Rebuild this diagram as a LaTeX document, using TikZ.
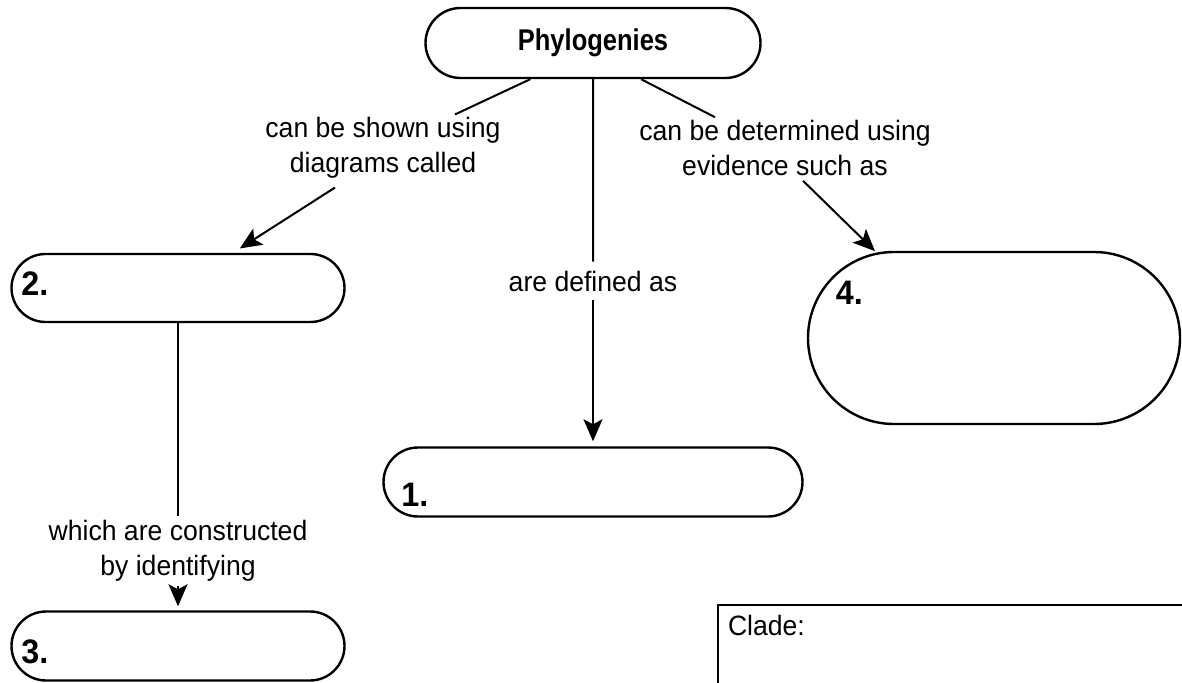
\documentclass[tikz,border=0pt]{standalone}
\usepackage{fontspec}
\setmainfont{Liberation Sans}[FakeStretch=0.95]
\newfontfamily\headfont{Liberation Sans}[FakeStretch=0.85]
\usetikzlibrary{arrows.meta,positioning,shapes.misc,calc}

\begin{document}
\begin{tikzpicture}
        [
            x = 0.5pt, y = -0.5pt,
            > = {Stealth[length=11pt,width=9.5pt,inset=2.5pt]},
            line width = 1pt,
            pill/.style = {
                draw, rounded rectangle, line width=1.2pt, inner sep=0pt},
            link/.style = {
                font=\fontsize{14}{17.5}\selectfont, align=center, inner sep=4pt},
            num/.style = {font=\fontsize{17}{20}\selectfont\bfseries, inner sep=0pt}
        ]
        \useasboundingbox (0,0) rectangle (1182,683);
        % boxes
        \node [pill, minimum width=167.5pt, minimum height=35pt,
               font=\fontsize{15}{18}\headfont\bfseries] (phylo) at (593,43) {Phylogenies};
        \node [pill, minimum width=166.5pt, minimum height=34pt] (tree) at (178,288) {};
        \node [pill, minimum width=209.5pt, minimum height=34.5pt] (defn) at (593,482) {};
        \node [pill, minimum width=186pt, minimum height=86pt] (evid) at (994,338) {};
        \node [pill, minimum width=166.5pt, minimum height=34.5pt] (chars) at (178,646) {};
        \node [draw, line width=1.2pt, anchor=north west,
               minimum width=300pt, minimum height=60pt] (clade) at (717,604) {};
        % numbers
        \node [num] (n2) [right=5pt of tree.west, yshift=2pt] {2.};
        \node [num] (n1) [right=9pt of defn.west, yshift=-6.5pt] {1.};
        \node [num] (n3) [right=5pt of chars.west, yshift=-3pt] {3.};
        \node [num] (n4) [right=14pt of evid.west, yshift=22.5pt] {4.};
        \node [link, inner sep=0pt] (cladetxt) [right=5pt of clade.north west, yshift=-10.5pt] {Clade:};
        % link labels
        \node [link] (lblshown) at (383,148) {can be shown using\\diagrams called};
        \node [link] (lbldet) at (785,148) {can be determined using\\evidence such as};
        \node [link] (lbldef) at (593,281) {are defined as};
        \node [link, inner sep=1.5pt] (lblcons) at (178,551) {which are constructed\\by identifying};
        % links
        \draw (phylo.210) -- ($(lblshown.north)+(72,6)$);
        \draw [->, shorten >=4pt] ($(lblshown.south)+(-48,0)$) -- (tree);
        \draw (phylo.323) -- ($(lbldet.north)+(-70,6)$);
        \draw [->, shorten >=1pt] ($(lbldet.south)+(18,-4)$) -- (evid.144);
        \draw (phylo) -- (lbldef);
        \draw [->, shorten >=2.5pt] (lbldef) -- (defn);
        \draw (tree) -- (lblcons);
        \draw [->, shorten >=2pt] (lblcons) -- (chars);
\end{tikzpicture}
\end{document}
